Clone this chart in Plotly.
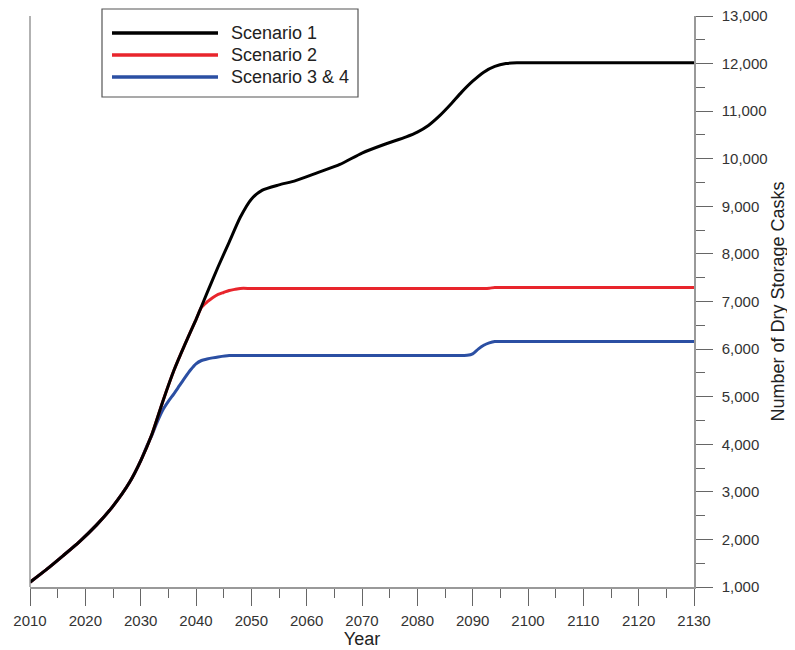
import plotly.graph_objects as go

# ---- data ----
years_s1 = [2010, 2013, 2016, 2019, 2022, 2025, 2028, 2030, 2032, 2034, 2036, 2038, 2040,
            2042, 2044, 2046, 2048, 2050, 2052, 2055, 2058, 2062, 2066, 2070, 2074, 2078,
            2080, 2082, 2084, 2086, 2088, 2090, 2092, 2094, 2096, 2098, 2100, 2115, 2130]
vals_s1 = [1100, 1370, 1660, 1960, 2300, 2700, 3200, 3650, 4200, 4900, 5550, 6100, 6620,
           7180, 7730, 8250, 8770, 9150, 9340, 9450, 9540, 9710, 9880, 10120, 10300, 10460,
           10560, 10700, 10900, 11140, 11400, 11630, 11820, 11940, 12000, 12015, 12015,
           12015, 12015]

years_s2 = [2010, 2013, 2016, 2019, 2022, 2025, 2028, 2030, 2032, 2034, 2036, 2038, 2040,
            2041, 2042, 2043, 2044, 2045, 2046, 2047, 2048, 2050, 2060, 2070, 2080, 2090,
            2092, 2093, 2094, 2096, 2100, 2115, 2130]
vals_s2 = [1100, 1370, 1660, 1960, 2300, 2700, 3200, 3650, 4200, 4900, 5550, 6100, 6620,
           6880, 6990, 7080, 7150, 7190, 7230, 7255, 7275, 7275, 7275, 7275, 7275, 7275,
           7275, 7280, 7295, 7295, 7295, 7295, 7295]

years_s3 = [2010, 2013, 2016, 2019, 2022, 2025, 2028, 2030, 2031, 2032, 2033, 2034, 2035,
            2036, 2037, 2038, 2039, 2040, 2041, 2042, 2043, 2044, 2046, 2048, 2055, 2062,
            2069, 2076, 2082, 2087, 2089, 2090, 2091, 2092, 2093, 2094, 2096, 2100, 2115,
            2130]
vals_s3 = [1100, 1370, 1660, 1960, 2300, 2700, 3200, 3650, 3930, 4180, 4470, 4720, 4900,
           5060, 5230, 5400, 5560, 5690, 5760, 5790, 5815, 5835, 5865, 5865, 5865, 5865,
           5865, 5865, 5865, 5865, 5870, 5900, 6000, 6080, 6130, 6160, 6160, 6160, 6160,
           6160]

series_names = ["Scenario 1", "Scenario 2", "Scenario 3 & 4"]
series_colors = ["#000000", "#e8252c", "#2b4fa3"]

x_ticks = list(range(2010, 2131, 10))
y_ticks = list(range(1000, 13001, 1000))

# ---- figure (page has an 8px body margin) ----
OFF = 8
PAGE_W, PAGE_H = 795, 650
PL, PR, PT, PB = 30, 694, 16, 587          # plot area in page pixels
W, H = PAGE_W - OFF, PAGE_H - OFF
L = PL - OFF
T = PT - OFF
R = W - (PR - OFF)
B = H - (PB - OFF)


def px(x):
    return (x - PL) / (PR - PL)


def py(y):
    return (PB - y) / (PB - PT)


fig = go.Figure()
order = [2, 1, 0]
all_x = [years_s1, years_s2, years_s3]
all_y = [vals_s1, vals_s2, vals_s3]
for i in order:
    fig.add_trace(go.Scatter(x=all_x[i], y=all_y[i], mode="lines", name=series_names[i],
                             line=dict(color=series_colors[i], width=3, shape="spline",
                                       smoothing=0.6),
                             showlegend=False))

font_family = "Liberation Sans, Arial, sans-serif"

fig.update_layout(
    width=W, height=H,
    margin=dict(l=L, r=R, t=T, b=B, autoexpand=False),
    paper_bgcolor="white", plot_bgcolor="white",
    font=dict(family=font_family, color="#333333", size=15),
    xaxis=dict(
        range=[2010, 2130], tickvals=x_ticks, ticktext=[str(v) for v in x_ticks],
        automargin=False, ticklabeloverflow="allow",
        showgrid=False, zeroline=False, showline=True, linecolor="#999999", linewidth=1.5,
        ticks="outside", ticklen=17, tickwidth=1.2, tickcolor="#666666",
        minor=dict(dtick=5, tick0=2010, ticks="outside", ticklen=9, tickwidth=1.2,
                   tickcolor="#666666", showgrid=False),
        tickfont=dict(size=15, color="#333333"), ticklabelstandoff=2,
        title=dict(text="Year", font=dict(size=18, color="#222222"), standoff=5),
    ),
    yaxis=dict(
        side="right", range=[1000, 13000], tickvals=y_ticks,
        ticktext=[f"{v:,}" for v in y_ticks], automargin=False,
        ticklabeloverflow="allow",
        showgrid=False, zeroline=False, showline=True, linecolor="#999999", linewidth=1.5,
        ticks="outside", ticklen=17, tickwidth=1.2, tickcolor="#666666",
        minor=dict(dtick=500, tick0=1000, ticks="outside", ticklen=9, tickwidth=1.2,
                   tickcolor="#666666", showgrid=False),
        tickfont=dict(size=15, color="#333333"), ticklabelstandoff=6,
        title=dict(text="Number of Dry Storage Casks", font=dict(size=18, color="#222222"),
                   standoff=5),
    ),
)

shapes = [
    dict(type="line", xref="paper", yref="paper", x0=0, x1=0, y0=0, y1=1,
         line=dict(color="#999999", width=1.5), layer="above"),
    dict(type="rect", xref="paper", yref="paper", x0=px(102), x1=px(358), y0=py(97), y1=py(9),
         line=dict(color="#555555", width=1.2), fillcolor="white", layer="above"),
]
annotations = []
rows = [33, 55, 77]
for name, col, ry in zip(series_names, series_colors, rows):
    shapes.append(dict(type="line", xref="paper", yref="paper", x0=px(112), x1=px(218),
                       y0=py(ry), y1=py(ry), line=dict(color=col, width=3.5), layer="above"))
    annotations.append(dict(xref="paper", yref="paper", x=px(229), y=py(ry), text=name,
                            showarrow=False, xanchor="left", yanchor="middle",
                            font=dict(size=18, color="#222222", family=font_family)))
fig.update_layout(shapes=shapes, annotations=annotations)

fig.write_html("out.html")
